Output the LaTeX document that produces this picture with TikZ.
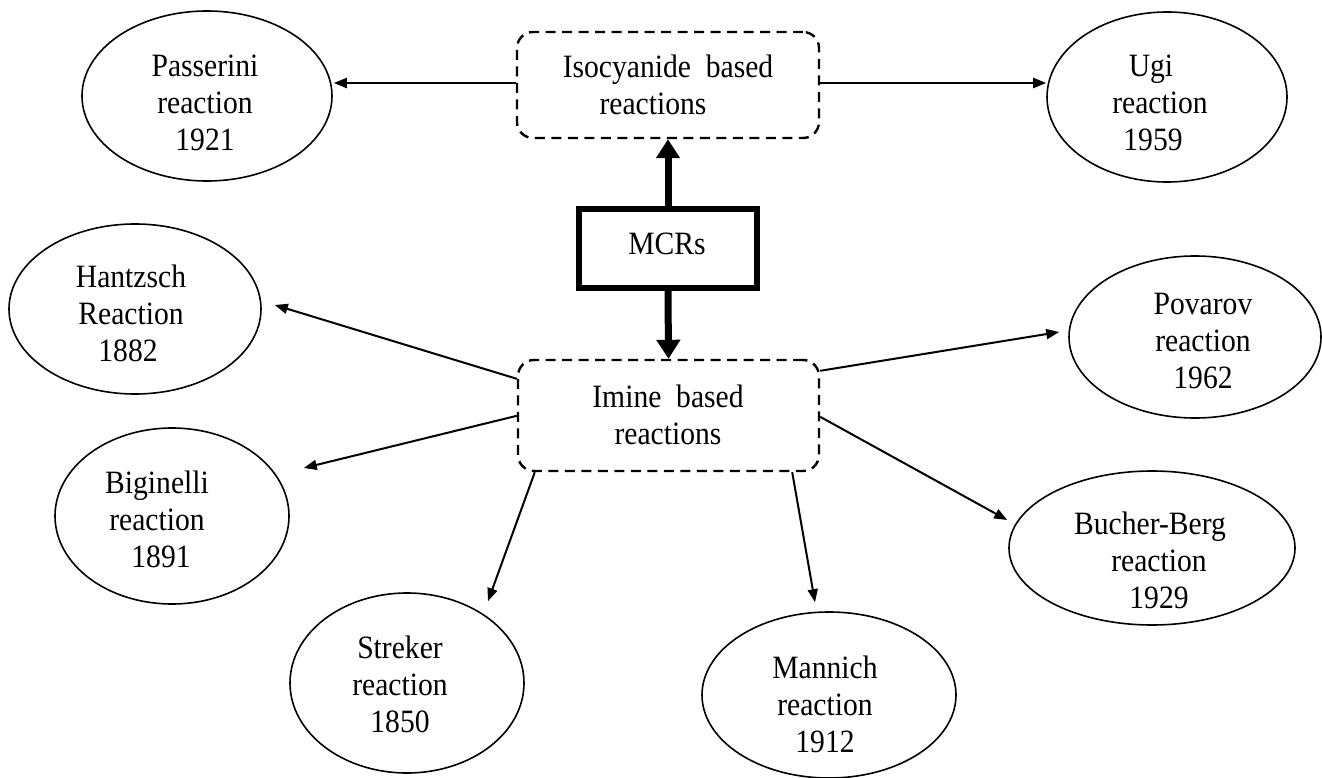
\documentclass[tikz,border=0pt]{standalone}
\usepackage{graphicx}
\usepackage{fontspec}
\setmainfont{Liberation Serif}
\usetikzlibrary{shapes.geometric,arrows.meta,calc}
\newcommand\stretchtxt[1]{\scalebox{1}[1.1]{\begin{tabular}{@{}c@{}}#1\end{tabular}}}
\begin{document}
\begin{tikzpicture}[x=1pt,y=-1pt,
  txt/.style={font=\fontsize{29.6}{33.6}\selectfont, inner sep=0pt},
  oval/.style={draw, line width=1.6pt, ellipse, inner sep=0pt},
  dbox/.style={draw, dash pattern=on 10pt off 6.5pt, line width=2.4pt, rounded corners=16pt, inner sep=0pt},
  mbox/.style={draw, line width=6pt, inner sep=0pt},
  arr/.style={-{Triangle[length=13pt,width=10pt]}, line width=2pt},
  bigarr/.style={-{Triangle[length=19pt,width=23pt]}, line width=7pt}
]
\fill[white] (0,0) rectangle (1322,778);
\useasboundingbox (0,0) rectangle (1322,778);

% boxes
\node[dbox, minimum width=302pt, minimum height=106pt] (iso) at (668,85) {};
\node[dbox, minimum width=301pt, minimum height=111pt] (imine) at (668.5,415.5) {};
\node[mbox, minimum width=178pt, minimum height=79pt] (mcrs) at (668,248.5) {};

\node[txt] (isot) at (668,89) {\stretchtxt{Isocyanide\ \ based\\reactions\hspace*{30pt}}};
\node[txt] (iminet) at (668,419) {\stretchtxt{Imine\ \ based\\reactions}};
\node[txt] (mcrst) at (667,247) {\stretchtxt{MCRs}};

% ellipses
\node[oval, minimum width=250pt, minimum height=170pt] (passerini) at (207,96) {};
\node[oval, minimum width=240pt, minimum height=170pt] (ugi) at (1167,97) {};
\node[oval, minimum width=252pt, minimum height=170pt] (hantzsch) at (135,309) {};
\node[oval, minimum width=234pt, minimum height=176pt] (biginelli) at (172,516) {};
\node[oval, minimum width=252pt, minimum height=162pt] (povarov) at (1195,337) {};
\node[oval, minimum width=286pt, minimum height=154pt] (bucher) at (1152,548) {};
\node[oval, minimum width=234pt, minimum height=180pt] (streker) at (407,683) {};
\node[oval, minimum width=254pt, minimum height=166pt] (mannich) at (829,695) {};

\node[txt] (passerinit) at (205,106.5) {\stretchtxt{Passerini\\reaction\\1921}};
\node[txt] (ugit) at (1160,106.5) {\stretchtxt{Ugi\hspace*{18pt}\\reaction\\1959\hspace*{14pt}}};
\node[txt] (hantzscht) at (131,317.5) {\stretchtxt{Hantzsch\\Reaction\\\hspace*{-6pt}1882}};
\node[txt] (biginellit) at (157,523.5) {\stretchtxt{Biginelli\\reaction\\\hspace*{8pt}1891}};
\node[txt] (povarovt) at (1203,344.5) {\stretchtxt{Povarov\\reaction\\1962}};
\node[txt] (buchert) at (1150,564.5) {\stretchtxt{Bucher-Berg\\\hspace*{18pt}reaction\\\hspace*{18pt}1929}};
\node[txt] (strekert) at (400,688.5) {\stretchtxt{Streker\\reaction\\1850}};
\node[txt] (mannicht) at (825,708.5) {\stretchtxt{Mannich\\reaction\\1912}};

% connectors
\draw[bigarr] (mcrs.north) -- (iso.south);
\draw[bigarr] (mcrs.south) -- (imine.north);

\draw[arr] ($(iso.west)+(0,-2)$) -- ($(passerini.east)+(1,-13)$);
\draw[arr] ($(iso.east)+(0,-2)$) -- ($(ugi.west)+(0,-14)$);

\draw[arr] ($(imine.north west)+(0,20)$) -- ($(hantzsch.east)+(13,-4)$);
\draw[arr] ($(imine.north west)+(0,57)$) -- ($(biginelli.east)+(14,-48)$);
\draw[arr] ($(imine.south west)+(18,0)$) -- ($(streker.north)+(81,9)$);
\draw[arr] ($(imine.south east)+(-28,0)$) -- ($(mannich.north)+(-14,-9)$);
\draw[arr] ($(imine.north east)+(0,12)$) -- ($(povarov.west)+(-9,-5)$);
\draw[arr] ($(imine.north east)+(0,58)$) -- ($(bucher.west)+(-1,-28)$);
\end{tikzpicture}
\end{document}
